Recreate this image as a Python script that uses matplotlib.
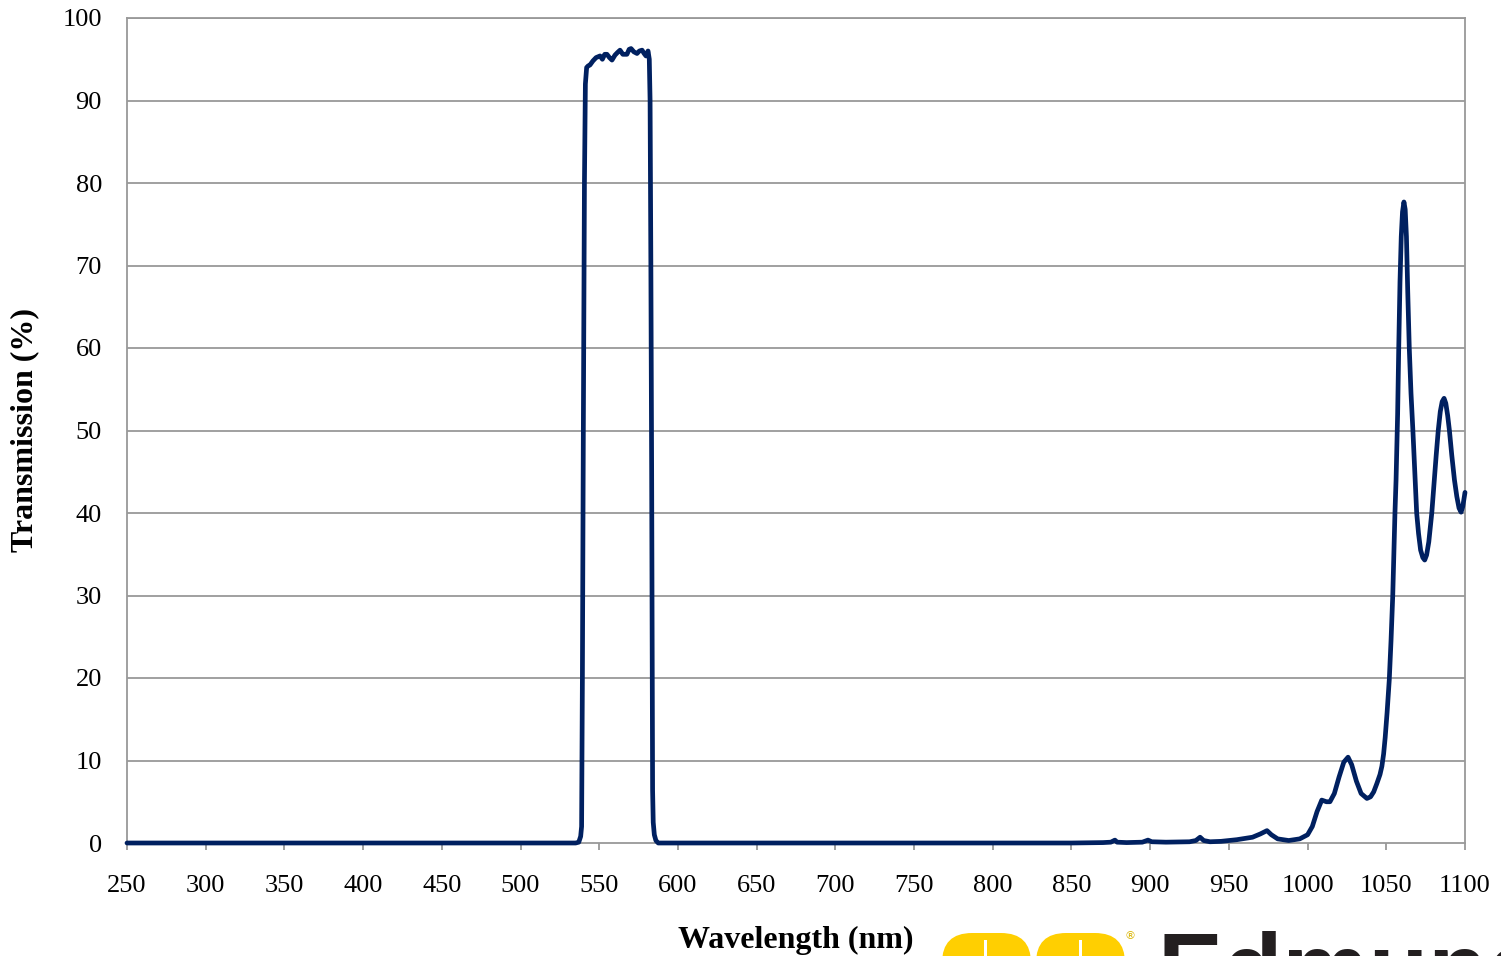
import matplotlib
matplotlib.use("Agg")
import matplotlib.pyplot as plt
from matplotlib.patches import FancyBboxPatch, Rectangle
from matplotlib.transforms import IdentityTransform

# Transmission curve (wavelength nm, transmission %)
base_nm = [250, 400, 535, 537]
base_t = [0, 0, 0, 0.1]

band_nm = [538.2, 538.8, 539.3, 539.9, 540.6, 541.2, 542.0, 543.0, 544.1, 546.0,
           548.0, 550.5, 552.0, 553.5, 554.9, 556.5, 558.1, 560.0, 561.5, 563.2,
           565.0, 567.6, 569.0, 570.2, 572.0, 574.0, 575.5, 577.2, 578.5, 579.7,
           581.0, 581.8, 582.3, 582.8, 583.3, 583.7, 583.9, 584.3, 585.0, 586.0,
           587.5]
band_t = [0.8, 2.0, 20, 50, 80, 92, 94.0, 94.2, 94.3, 94.8,
          95.2, 95.4, 95.0, 95.6, 95.6, 95.2, 94.9, 95.5, 95.8, 96.1,
          95.6, 95.6, 96.2, 96.3, 95.9, 95.7, 96.0, 96.1, 95.7, 95.4,
          96.0, 95.0, 90, 70, 45, 20, 6.4, 2.5, 1.0, 0.3,
          0]

ir_nm = [600, 850, 870, 875, 877.6, 879, 885, 895, 898.6, 901,
         910, 925, 929, 931.7, 934, 938, 945, 955, 965, 970,
         974.2, 977, 981, 988, 995, 1000, 1003, 1006, 1009, 1012,
         1014.2, 1017, 1020, 1023, 1025.7, 1028, 1031, 1034, 1037.7, 1040,
         1042, 1044, 1046, 1047.2, 1048.3, 1049.3, 1050.5, 1051.9, 1053, 1054.1,
         1055.5, 1056.2,
         1057.2, 1057.9, 1058.7, 1059.5, 1060.3, 1061.2, 1062.0, 1062.8, 1063.6, 1064.6,
         1065.7, 1066.9, 1068.1, 1069.3, 1070.5, 1071.8, 1073.2, 1074.4, 1075.6, 1077.0,
         1078.9, 1080.3, 1081.7, 1083.0, 1084.3, 1085.5, 1086.7, 1087.8, 1089.0, 1090.1,
         1091.6, 1093.3, 1094.8, 1096.2, 1097.5, 1098.6, 1099.4, 1100]
ir_t = [0, 0, 0.05, 0.1, 0.35, 0.1, 0.05, 0.1, 0.35, 0.15,
        0.1, 0.15, 0.3, 0.7, 0.3, 0.15, 0.2, 0.4, 0.7, 1.1,
        1.5, 1.0, 0.5, 0.3, 0.5, 1.0, 2.0, 3.8, 5.2, 5.0,
        5.0, 6.0, 8.0, 9.8, 10.4, 9.5, 7.5, 6.0, 5.4, 5.6,
        6.2, 7.2, 8.3, 9.3, 10.8, 12.8, 15.8, 19.8, 24.5, 30,
        40, 44,
        52, 60, 68, 73.5, 76.5, 77.7, 76.8, 73.5, 67, 60,
        54.5, 50, 45, 40, 37.5, 35.5, 34.6, 34.3, 34.9, 36.5,
        40, 43.5, 47, 50, 52.3, 53.5, 53.9, 53.3, 51.8, 50,
        47, 44, 42, 40.6, 40.1, 40.8, 41.8, 42.5]

wavelength = base_nm + band_nm + ir_nm
transmission = base_t + band_t + ir_t

x_ticks = list(range(250, 1101, 50))
y_ticks = list(range(0, 101, 10))

plt.rcParams['font.family'] = ['Liberation Serif', 'DejaVu Serif']

fig = plt.figure(figsize=(15.01, 9.56), dpi=100)
ax = fig.add_axes([127 / 1501, 113 / 956, 1338 / 1501, 825 / 956])

grid_col = '#999999'
ax.set_yticks(y_ticks)
ax.set_xticks(x_ticks)
for y in y_ticks[1:]:
    ax.axhline(y, color=grid_col, linewidth=1.3, zorder=1)

ax.plot(wavelength, transmission, color='#002060', linewidth=3.4,
        solid_joinstyle='round', solid_capstyle='round', zorder=3, clip_on=False)

ax.set_xlim(250, 1100)
ax.set_ylim(0, 100)
for side in ['left', 'right', 'top', 'bottom']:
    ax.spines[side].set_color(grid_col)
    ax.spines[side].set_linewidth(1.3)
ax.tick_params(axis='x', direction='out', length=5, width=1.3, color=grid_col,
               pad=18, labelsize=19)
ax.tick_params(axis='y', length=0, pad=18, labelsize=19)

fig.text(25 / 1501, 0.550, 'Transmission (%)', rotation=90, ha='center', va='center',
         fontsize=23, fontweight='bold')
fig.text(796 / 1501, 0.016, 'Wavelength (nm)', ha='center', va='center',
         fontsize=23, fontweight='bold')

# partially visible logo at the bottom edge
pix = IdentityTransform()
yellow = '#FFCF01'
for x0 in [942, 1036]:
    fig.add_artist(FancyBboxPatch((x0, -60), 89, 83,
                                  boxstyle='round,pad=0,rounding_size=30',
                                  transform=pix, facecolor=yellow, edgecolor='none'))
for xl in [984, 1079]:
    fig.add_artist(Rectangle((xl, -10), 3, 26, transform=pix,
                             facecolor='white', edgecolor='none'))
fig.text(1130 / 1501, (956 - 936) / 956, '\u00ae', ha='center', va='center',
         fontsize=8, color='#d9b400', family='DejaVu Sans')
fig.text(1158 / 1501, -0.047, 'Edmund Optics', ha='left', va='baseline',
         fontsize=70, fontweight='bold', color='#231F20', family='Liberation Sans')

fig.savefig('out.png', dpi=100)
